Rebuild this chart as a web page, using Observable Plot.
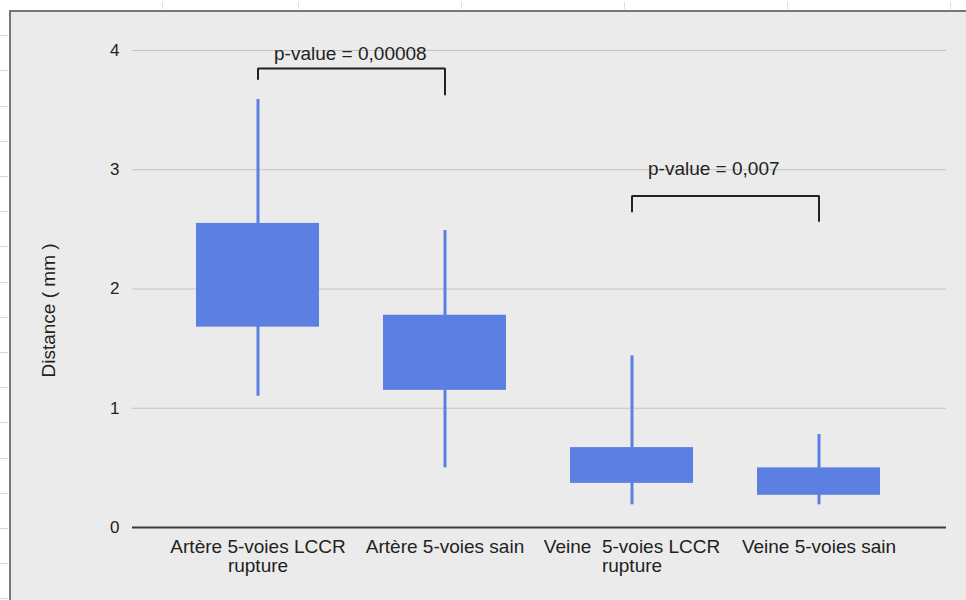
<!DOCTYPE html>
<html>
<head>
<meta charset="utf-8">
<script src="https://cdn.jsdelivr.net/npm/d3@7"></script>
<script src="https://cdn.jsdelivr.net/npm/@observablehq/plot@0.6"></script>
<style>
  html, body { margin: 0; padding: 0; background: #ffffff; }
  #page { position: relative; width: 966px; height: 600px; overflow: hidden; background: #ffffff; }
  #sheetLeft { position: absolute; left: 0; top: 0; width: 8px; height: 600px;
    background: repeating-linear-gradient(to bottom, transparent 0px, transparent 34.2px, #d6d6d6 34.2px, #d6d6d6 35.2px);
    background-position: 0 1px; }
  .vtick { position: absolute; top: 2px; width: 1px; height: 7px; background: #dcdcdc; }
  #panel { position: absolute; left: 9px; top: 10px; right: -4px; bottom: -4px;
    background: #ebebeb; border-left: 2px solid #777777; border-top: 2px solid #777777; }
  #chart { position: absolute; left: 0; top: 0; }
</style>
</head>
<body>
<div id="page">
  <div id="sheetLeft"></div>
  <div class="vtick" style="left:162px"></div>
  <div class="vtick" style="left:298px"></div>
  <div class="vtick" style="left:461px"></div>
  <div class="vtick" style="left:624px"></div>
  <div class="vtick" style="left:787px"></div>
  <div class="vtick" style="left:950px"></div>
  <div id="panel"></div>
  <div id="chart"></div>
</div>
<script>
// ---- data ----
const categories = [
  "Artère 5-voies LCCR\nrupture",
  "Artère 5-voies sain",
  "Veine\u00a0\u00a05-voies LCCR\nrupture",
  "Veine 5-voies sain"
];
const whiskerLow  = [1.10, 0.50, 0.19, 0.19];
const q1          = [1.68, 1.15, 0.37, 0.27];
const q3          = [2.55, 1.78, 0.67, 0.50];
const whiskerHigh = [3.59, 2.49, 1.44, 0.78];

const yTicks = [0, 1, 2, 3, 4];
const yGrid = [1, 2, 3, 4];
const yLabel = "Distance ( mm )";

// significance brackets
const bracketFrom   = [categories[0], categories[2]];
const bracketTo     = [categories[1], categories[3]];
const bracketTop    = [3.85, 2.78];
const bracketLeftEnd  = [3.76, 2.65];
const bracketRightEnd = [3.63, 2.57];
const pLabels = ["p-value = 0,00008", "p-value = 0,007"];
const pLabelY = [3.975, 3.005];

// ---- tables built from arrays ----
const boxes = categories.map((c, i) => ({cat: c, lo: whiskerLow[i], q1: q1[i], q3: q3[i], hi: whiskerHigh[i]}));
const bracketPts = [];
bracketFrom.forEach((f, i) => {
  bracketPts.push({id: i, x: f, y: bracketLeftEnd[i]});
  bracketPts.push({id: i, x: f, y: bracketTop[i]});
  bracketPts.push({id: i, x: bracketTo[i], y: bracketTop[i]});
  bracketPts.push({id: i, x: bracketTo[i], y: bracketRightEnd[i]});
});
const pTexts = pLabels.map((t, i) => ({x: bracketFrom[i], y: pLabelY[i], t}));

const boxColor = "#5b80e2";
const ink = "#222222";

const chart = Plot.plot({
  width: 966,
  height: 600,
  marginLeft: 132,
  marginRight: 20,
  marginTop: 50,
  marginBottom: 73,
  style: {
    background: "transparent",
    fontFamily: "'Liberation Sans', Arial, Helvetica, sans-serif",
    fontSize: "17px",
    color: ink,
    overflow: "visible"
  },
  x: {domain: categories, range: [164, 912], paddingInner: 0.34, paddingOuter: 0.17},
  y: {domain: [0, 4]},
  marks: [
    Plot.ruleY(yGrid, {stroke: "#c3c3c3", strokeWidth: 1}),
    Plot.ruleY([0], {stroke: "#3a3a3a", strokeWidth: 2}),
    Plot.axisY({ticks: yTicks, tickSize: 0, tickPadding: 13, fontSize: 17, label: null, tickFormat: d => String(d)}),
    Plot.axisX({tickSize: 0, tickPadding: 12, fontSize: 19, label: null}),
    Plot.text([yLabel], {frameAnchor: "left", y: 1.82, dx: -84, rotate: -90, fontSize: 19, fill: ink, textAnchor: "middle", lineAnchor: "middle"}),
    Plot.ruleX(boxes, {x: "cat", y1: "lo", y2: "hi", stroke: boxColor, strokeWidth: 3}),
    Plot.barY(boxes, {x: "cat", y1: "q1", y2: "q3", fill: boxColor}),
    Plot.line(bracketPts, {x: "x", y: "y", z: "id", stroke: ink, strokeWidth: 2, strokeLinejoin: "miter", curve: "linear"}),
    Plot.text(pTexts, {x: "x", y: "y", text: "t", textAnchor: "start", lineAnchor: "middle", dx: 16, fontSize: 19, fill: ink})
  ]
});
document.getElementById("chart").appendChild(chart);
</script>
</body>
</html>
